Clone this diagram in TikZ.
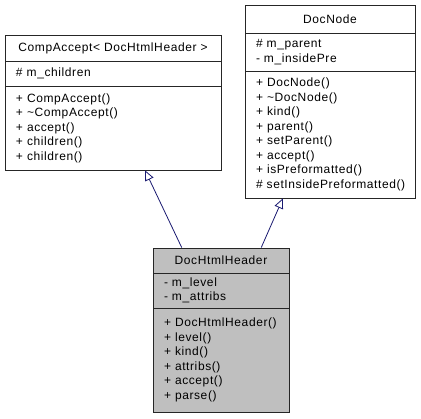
\documentclass[tikz,border=0pt]{standalone}
\usepackage{fontspec}
\newfontfamily\umlfont[LetterSpace=5]{Liberation Sans}
\usepackage{tikz}
\usetikzlibrary{arrows.meta}
\usetikzlibrary{calc}
\definecolor{edgeblue}{RGB}{25,25,112}
\definecolor{hdrgray}{RGB}{191,191,191}
\tikzset{umlpart/.style={draw=black!85,line width=0.9pt,inner ysep=0pt,inner xsep=11pt,
                         font=\umlfont\fontsize{12}{14.5}\selectfont},
         umltitle/.style={umlpart,align=center},
         umllist/.style={umlpart,align=left},
         inherit/.style={draw=edgeblue,line width=0.8pt,-{Triangle[open,length=10pt,width=9pt]}}}

\begin{document}
\begin{tikzpicture}[x={(1pt,0)},y={(0,-1pt)}]
\useasboundingbox (0,0) rectangle (421,419);

%%base class on the left
\node[umltitle,minimum width=216,minimum height=26] (comptitle) at (113,48) {CompAccept< DocHtmlHeader >};
\node[umllist,text width=194,minimum height=25] (compattr) at (113,73.5) {\# m\_children};
\node[umllist,text width=194,minimum height=84] (compops) at (113,128) {+ CompAccept()\\+ \textasciitilde CompAccept()\\+ accept()\\+ children()\\+ children()};

%%base class on the right
\node[umltitle,minimum width=170,minimum height=28] (nodetitle) at (330,19) {DocNode};
\node[umllist,text width=148,minimum height=38] (nodeattr) at (330,52) {\# m\_parent\\- m\_insidePre};
\node[umllist,text width=148,minimum height=127] (nodeops) at (330,134.5) {+ DocNode()\\+ \textasciitilde DocNode()\\+ kind()\\+ parent()\\+ setParent()\\+ accept()\\+ isPreformatted()\\\# setInsidePreformatted()};

%%the derived class
\node[umltitle,fill=hdrgray,minimum width=136,minimum height=25] (hdrtitle) at (221,260.5) {DocHtmlHeader};
\node[umllist,fill=hdrgray,text width=114,minimum height=35] (hdrattr) at (221,290.5) {- m\_level\\- m\_attribs};
\node[umllist,fill=hdrgray,text width=114,minimum height=104] (hdrops) at (221,360) {+ DocHtmlHeader()\\+ level()\\+ kind()\\+ attribs()\\+ accept()\\+ parse()};

%%inheritance
\draw[inherit] ($(hdrtitle.north west)!0.213!(hdrtitle.north east)$) -- ($(compops.south west)!0.648!(compops.south east)$);
\draw[inherit] ($(hdrtitle.north west)!0.794!(hdrtitle.north east)$) -- ($(nodeops.south west)!0.224!(nodeops.south east)$);

\end{tikzpicture}
\end{document}
